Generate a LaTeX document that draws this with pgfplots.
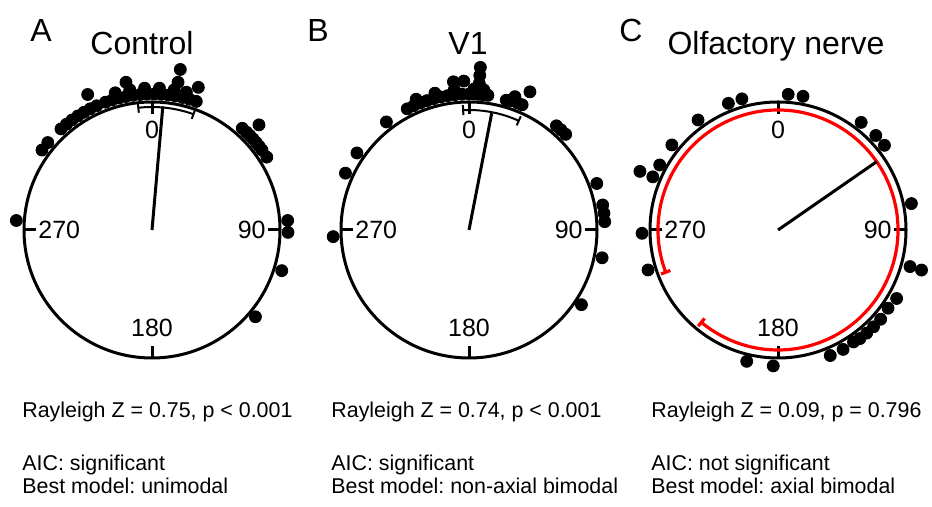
\documentclass[border=0pt]{standalone}
\usepackage{fontspec}
\setmainfont{Liberation Sans}
\usepackage{pgfplots}
\pgfplotsset{compat=1.18}
\usepackage{pgfplotstable}
\frenchspacing

% angle a: degrees clockwise from 0 (top); r: distance from centre (px)
\pgfplotstableread{
a r
-20 136
-17 136
-14 136
-11 136
-8 136
-5 136
-2 136
1 136
4 136
7 136
10 136
13 136
16 136
19 136
-15 142
-9 142
-3 142
3 142
9 142
14 142
-10 150
-25.4 150
10 150
10 163
18 150
-24 136
-27 136
-30 136
-33 136
-36 136
-39 136
-42 136
-50 136
-54 136
41.6 136
44 136
46 136
48 136
50 136
52 136
54 136
57.6 136
45.5 150
274 136
86 136
91 136
107.4 136
130 135
}\dotsA

\pgfplotstableread{
a r
-27 136
-24 136
-21 136
-18 136
-15 136
-12 136
-9 136
-6 136
-3 136
0 136
2 136
4 136
6 136
8 136
16 135
18 136
21 136
23 136
-22 141
-14 141
-6 141
2 141
6 141
19 141
4 147
4 155
4 163
-6 149
-2 149
23.8 151
-37.4 136
-55.5 136
-65.3 136
40 136
42.5 136
45.3 136
70 136
79.4 136
82.9 136
86.5 136
101.8 136
123.6 135
267.2 136
}\dotsB

\pgfplotstableread{
a r
4.3 136
10.6 136
338.6 136
344.6 136
324 136
308.7 136
293 150
298.8 135
293 136
268.6 136
252.9 136
37.7 136
46 136
51.5 136
78.8 136
105.5 137
105.6 149
120 137
125.4 135
131 136
135.4 136
139.3 136
143 136
146 135
151.4 136
157.4 136
193.4 135
182 136
}\dotsC

\newcommand{\pt}[3]{([shift={({90-(#2)}:{(#3)*0.5pt})}]axis cs:#1,277)}
\newcommand{\compass}[1]{%
  \draw[line width=1.5pt] (axis cs:#1,277) circle[radius=64pt];
  \draw[line width=1.5pt] \pt{#1}{0}{116} -- \pt{#1}{0}{129};
  \draw[line width=1.5pt] \pt{#1}{90}{116} -- \pt{#1}{90}{129};
  \draw[line width=1.5pt] \pt{#1}{180}{116} -- \pt{#1}{180}{129};
  \draw[line width=1.5pt] \pt{#1}{270}{116} -- \pt{#1}{270}{129};
  \node[anchor=north,inner sep=0pt,font=\ticks] at \pt{#1}{0}{109} {0};
  \node[anchor=east,inner sep=0pt,font=\ticks] at \pt{#1}{90}{114} {90};
  \node[anchor=south,inner sep=0pt,font=\ticks] at \pt{#1}{180}{107} {180};
  \node[anchor=west,inner sep=0pt,font=\ticks] at \pt{#1}{270}{114} {270};
}
% centre x, radius (px), from angle, to angle, style
\newcommand{\errarc}[5]{%
  \draw[#5] \pt{#1}{#3}{#2} arc[start angle={90-(#3)}, end angle={90-(#4)}, radius={(#2)*0.5pt}];
  \draw[#5] \pt{#1}{#3}{#2-5} -- \pt{#1}{#3}{#2+5};
  \draw[#5] \pt{#1}{#4}{#2-5} -- \pt{#1}{#4}{#2+5};
}
\newcommand{\ticks}{\fontsize{12.5}{12.5}\selectfont}
\newcommand{\ttl}{\fontsize{16}{18}\selectfont}
\newcommand{\txt}{\fontsize{10.7}{12}\selectfont}

\begin{document}
\begin{tikzpicture}
\useasboundingbox (0,0) rectangle (466pt,253.5pt);
\begin{axis}[
  at={(0,0)}, anchor=south west,
  width=466pt, height=253.5pt, scale only axis,
  xmin=0, xmax=932, ymin=0, ymax=507,
  hide axis, clip=false,
]
% panel A
\compass{152}
\errarc{152}{123}{-6.4}{19.7}{line width=1pt}
\addplot[line width=1.5pt, no marks] table[x expr=152+\thisrow{r}*sin(\thisrow{a}), y expr=277+\thisrow{r}*cos(\thisrow{a}), row sep=\\] {a r\\ 0 0\\ 5 124\\};
\addplot[only marks, mark=*, mark size=3pt, black] table[x expr=152+\thisrow{r}*sin(\thisrow{a}), y expr=277+\thisrow{r}*cos(\thisrow{a})] {\dotsA};
% panel B
\compass{469}
\errarc{469}{120}{-2.8}{24.5}{line width=1pt}
\addplot[line width=1.5pt, no marks] table[x expr=469+\thisrow{r}*sin(\thisrow{a}), y expr=277+\thisrow{r}*cos(\thisrow{a}), row sep=\\] {a r\\ 0 0\\ 11 119\\};
\addplot[only marks, mark=*, mark size=3pt, black] table[x expr=469+\thisrow{r}*sin(\thisrow{a}), y expr=277+\thisrow{r}*cos(\thisrow{a})] {\dotsB};
% panel C
\compass{778}
\errarc{778}{120}{249.4}{579.7}{line width=1.6pt, red}
\addplot[line width=1.5pt, no marks] table[x expr=778+\thisrow{r}*sin(\thisrow{a}), y expr=277+\thisrow{r}*cos(\thisrow{a}), row sep=\\] {a r\\ 0 0\\ 55.3 120\\};
\addplot[only marks, mark=*, mark size=3pt, black] table[x expr=778+\thisrow{r}*sin(\thisrow{a}), y expr=277+\thisrow{r}*cos(\thisrow{a})] {\dotsC};

% titles
\node[anchor=base west, inner sep=0pt, font=\ttl] at (axis cs:30,465) {A};
\node[anchor=base, inner sep=0pt, font=\ttl] at (axis cs:142,452) {Control};
\node[anchor=base west, inner sep=0pt, font=\ttl] at (axis cs:307,465) {B};
\node[anchor=base, inner sep=0pt, font=\ttl] at (axis cs:468,452) {V1};
\node[anchor=base west, inner sep=0pt, font=\ttl] at (axis cs:619,465) {C};
\node[anchor=base, inner sep=0pt, font=\ttl] at (axis cs:776,452) {Olfactory nerve};

% statistics
\node[anchor=base west, inner sep=0pt, font=\txt] at (axis cs:22,89) {Rayleigh Z = 0.75, p < 0.001};
\node[anchor=base west, inner sep=0pt, font=\txt] at (axis cs:22,36) {AIC: significant};
\node[anchor=base west, inner sep=0pt, font=\txt] at (axis cs:22,13) {Best model: unimodal};
\node[anchor=base west, inner sep=0pt, font=\txt] at (axis cs:331,89) {Rayleigh Z = 0.74, p < 0.001};
\node[anchor=base west, inner sep=0pt, font=\txt] at (axis cs:331,36) {AIC: significant};
\node[anchor=base west, inner sep=0pt, font=\txt] at (axis cs:331,13) {Best model: non-axial bimodal};
\node[anchor=base west, inner sep=0pt, font=\txt] at (axis cs:651,89) {Rayleigh Z = 0.09, p = 0.796};
\node[anchor=base west, inner sep=0pt, font=\txt] at (axis cs:651,36) {AIC: not significant};
\node[anchor=base west, inner sep=0pt, font=\txt] at (axis cs:651,13) {Best model: axial bimodal};
\end{axis}
\end{tikzpicture}
\end{document}
